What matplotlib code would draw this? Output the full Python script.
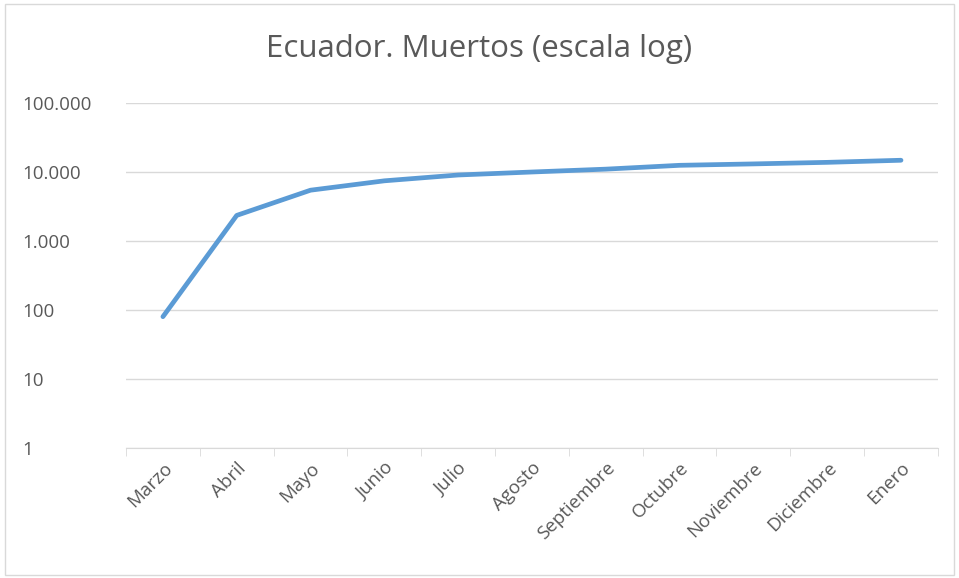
import matplotlib
matplotlib.use("Agg")
import matplotlib.pyplot as plt
from matplotlib.ticker import FixedLocator, NullLocator
from matplotlib.patches import Rectangle

months = ["Marzo", "Abril", "Mayo", "Junio", "Julio", "Agosto", "Septiembre",
          "Octubre", "Noviembre", "Diciembre", "Enero"]
deaths = [80, 2350, 5450, 7450, 9050, 10000, 11000, 12500, 13100, 13800, 14800]
y_ticks = [1, 10, 100, 1000, 10000, 100000]
y_labels = ["1", "10", "100", "1.000", "10.000", "100.000"]

plt.rcParams['font.family'] = ['Open Sans', 'DejaVu Sans']
txt = '#595959'
grid = '#d9d9d9'

fig = plt.figure(figsize=(9.59, 5.78), dpi=100)
fig.patches.append(Rectangle((0.005, 0.005), 0.99, 0.988, transform=fig.transFigure,
                             fill=False, edgecolor='#d9d9d9', linewidth=1))
ax = fig.add_axes([0.1314, 0.2249, 0.8466, 0.5969])

x = list(range(len(months)))
ax.plot(x, deaths, color='#5B9BD5', linewidth=3.4, solid_capstyle='round',
        solid_joinstyle='round', zorder=3)

ax.set_yscale('log')
ax.set_ylim(1, 100000)
ax.yaxis.set_major_locator(FixedLocator(y_ticks))
ax.yaxis.set_minor_locator(NullLocator())
ax.set_yticklabels(y_labels)
ax.set_xlim(-0.5, len(months) - 0.5)
ax.set_xticks(x)
ax.set_xticklabels(months, rotation=45, ha='right', rotation_mode='anchor')
ax.set_xticks([i - 0.5 for i in range(len(months) + 1)], minor=True)

ax.grid(axis='y', color=grid, linewidth=1)
ax.set_axisbelow(True)
for s in ['top', 'right', 'left']:
    ax.spines[s].set_visible(False)
ax.spines['bottom'].set_color(grid)
ax.tick_params(axis='x', which='major', length=0, pad=8, labelsize=13.5, labelcolor=txt)
ax.tick_params(axis='x', which='minor', length=6, color=grid)
ax.tick_params(axis='y', length=0, pad=75, labelsize=13.5, labelcolor=txt)
for lab in ax.get_yticklabels():
    lab.set_horizontalalignment('left')

fig.text(0.5, 0.915, "Ecuador. Muertos (escala log)", ha='center', va='center',
         fontsize=22.5, color=txt)

fig.savefig("out.png", dpi=100)
